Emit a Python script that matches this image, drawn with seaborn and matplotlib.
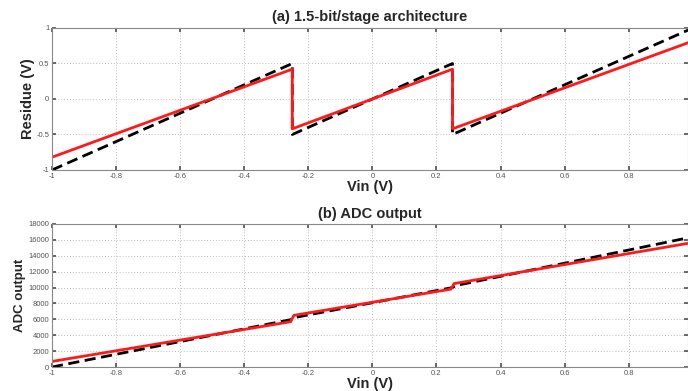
import matplotlib

matplotlib.use("Agg")
import matplotlib.pyplot as plt
import pandas as pd
import seaborn as sns

# ---------------------------------------------------------------- data
# (a) residue, ideal vs. real (breakpoints)
res_vin = [-1.0, -0.25, -0.25, 0.25, 0.25, 0.99]
res_ideal = [-1.0, 0.5, -0.5, 0.5, -0.5, 0.98]
res_real = [-0.82, 0.42, -0.42, 0.42, -0.42, 0.80]

# (b) ADC output, ideal vs. real
adc_vin_ideal = [-1.0, -0.25, -0.24, 0.25, 0.26, 0.99]
adc_ideal = [0, 6000, 6250, 10000, 10250, 16300]
adc_vin_real = [-1.0, -0.255, -0.245, 0.245, 0.255, 0.99]
adc_real = [700, 5700, 6500, 9800, 10500, 15600]

x_ticks = [-1, -0.8, -0.6, -0.4, -0.2, 0, 0.2, 0.4, 0.6, 0.8]
x_labels = ["-1", "-0.8", "-0.6", "-0.4", "-0.2", "0", "0.2", "0.4", "0.6", "0.8"]
res_ticks = [-1, -0.5, 0, 0.5, 1]
res_labels = ["-1", "-0.5", "0", "0.5", "1"]
adc_ticks = list(range(0, 18001, 2000))

sns.set_theme(style="white")
plt.rcParams["font.family"] = ["Liberation Sans", "DejaVu Sans"]

fig = plt.figure(figsize=(6.88, 3.91), dpi=100)
ax1 = fig.add_axes([52 / 688, 1 - 170 / 391, 636 / 688, 142 / 391])
ax2 = fig.add_axes([52 / 688, 1 - 367 / 391, 636 / 688, 143 / 391])

# estimator=None: keep the repeated x values of the jumps as drawn points
line_kw = dict(sort=False, estimator=None, linewidth=2.0)
dash = (0, (4, 2))
red = "#ff1a1a"

top = pd.DataFrame({"vin": res_vin, "ideal": res_ideal, "real": res_real})
sns.lineplot(data=top, x="vin", y="ideal", color="black", linestyle=dash, ax=ax1, **line_kw)
sns.lineplot(data=top, x="vin", y="real", color=red, ax=ax1, **line_kw)

ideal = pd.DataFrame({"vin": adc_vin_ideal, "out": adc_ideal})
real = pd.DataFrame({"vin": adc_vin_real, "out": adc_real})
sns.lineplot(data=ideal, x="vin", y="out", color="black", linestyle=dash, ax=ax2, **line_kw)
sns.lineplot(data=real, x="vin", y="out", color=red, ax=ax2, **line_kw)

for ax in (ax1, ax2):
    ax.set_xlim(-1, 0.985)
    ax.set_xticks(x_ticks)
    ax.set_xticklabels(x_labels)
    ax.grid(True, linestyle=(0, (1, 2)), color="#bdbdbd", linewidth=0.7)
    ax.tick_params(direction="in", length=3, labelsize=5.5, labelcolor="#555555",
                   color="#555555", top=True, right=True, bottom=True, left=True, pad=2)
    for sp in ax.spines.values():
        sp.set_color("#888888")
        sp.set_linewidth(0.8)
    ax.set_xlabel("Vin (V)", fontsize=10.5, fontweight="bold", labelpad=0)

ax1.set_ylim(-1, 1)
ax1.set_yticks(res_ticks)
ax1.set_yticklabels(res_labels)
ax1.set_ylabel("Residue (V)", fontsize=10.5, fontweight="bold", labelpad=1)
ax1.set_title("(a) 1.5-bit/stage architecture", fontsize=10.5, fontweight="bold", pad=5)

ax2.set_ylim(0, 18000)
ax2.set_yticks(adc_ticks)
ax2.set_ylabel("ADC output", fontsize=9.5, fontweight="bold", labelpad=2)
ax2.set_title("(b) ADC output", fontsize=10.5, fontweight="bold", pad=4)

fig.savefig("out.png", dpi=100)
plt.close(fig)
